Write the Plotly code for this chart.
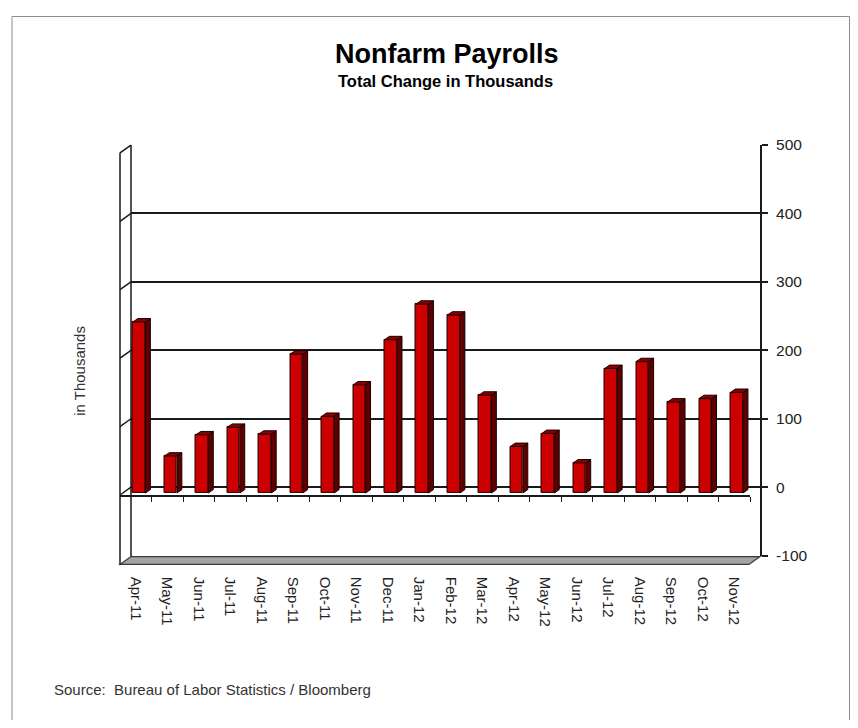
import plotly.graph_objects as go

months = ["Apr-11", "May-11", "Jun-11", "Jul-11", "Aug-11", "Sep-11", "Oct-11", "Nov-11",
          "Dec-11", "Jan-12", "Feb-12", "Mar-12", "Apr-12", "May-12", "Jun-12", "Jul-12",
          "Aug-12", "Sep-12", "Oct-12", "Nov-12"]
payrolls = [250, 54, 85, 96, 86, 203, 112, 158, 224, 276, 260, 143, 68, 87, 44, 182, 192, 133, 138, 147]
y_ticks = [-100, 0, 100, 200, 300, 400, 500]
y_tick_labels = ["-100", "0", "100", "200", "300", "400", "500"]

# The page body keeps an 8px margin, so the figure is sized to fit inside the window
OFF = 8
W, H = 858 - 2 * OFF, 728 - 2 * OFF
FONT = "Liberation Sans, Arial, sans-serif"

def px(x):
    return (x - OFF) / W

def py(y):
    return 1 - (y - OFF) / H

BAR_HALF = 0.2
DX = 0.155
DY = 5.0

fig = go.Figure()

# Back wall subplot (x / y)
fig.add_trace(go.Scatter(x=[0.5], y=[None], xaxis="x", yaxis="y", showlegend=False, hoverinfo="skip"))

# Bars (x2 / y2): front faces
idx = list(range(len(months)))
fig.add_trace(go.Bar(x=idx, y=payrolls, xaxis="x2", yaxis="y2", width=2 * BAR_HALF,
                     marker=dict(color="#cc0000", line=dict(color="#1a0000", width=1)),
                     showlegend=False, hoverinfo="skip"))

sx, sy, tx, ty = [], [], [], []
for i, v in zip(idx, payrolls):
    r = i + BAR_HALF
    l = i - BAR_HALF
    sx += [r, r + DX, r + DX, r, r, None]
    sy += [0, DY, v + DY, v, 0, None]
    tx += [l, r, r + DX, l + DX, l, None]
    ty += [v, v, v + DY, v + DY, v, None]
fig.add_trace(go.Scatter(x=sx, y=sy, xaxis="x2", yaxis="y2", mode="lines", fill="toself",
                         fillcolor="#5e0000", line=dict(color="#1a0000", width=1),
                         showlegend=False, hoverinfo="skip"))
fig.add_trace(go.Scatter(x=tx, y=ty, xaxis="x2", yaxis="y2", mode="lines", fill="toself",
                         fillcolor="#8a0000", line=dict(color="#1a0000", width=1),
                         showlegend=False, hoverinfo="skip"))

# Front category axis carrier
fig.add_trace(go.Scatter(x=[0], y=[None], xaxis="x3", yaxis="y2", showlegend=False, hoverinfo="skip"))

# ---- frame (back wall at x 131..760, y 140..560; front offset -11px, +8px)
BL, BR, FL, FR = 131, 760, 120, 749
grid_py = [140, 210, 280, 350, 420, 490]
LINE = dict(color="#1a1a1a", width=1.5)
shapes = []
shapes.append(dict(type="rect", xref="paper", yref="paper", x0=px(12), x1=px(849.5), y0=py(740), y1=py(8.5),
                   line=dict(color="#8c8c8c", width=1), layer="below"))
shapes.append(dict(type="path", xref="paper", yref="paper",
                   path=f"M {px(BL)},{py(561)} L {px(BR)},{py(561)} L {px(FR)},{py(569)} L {px(FL)},{py(569)} Z",
                   fillcolor="#a3a3a3", line=dict(color="#3a3a3a", width=1.2), layer="below"))
for g in grid_py:
    shapes.append(dict(type="line", xref="paper", yref="paper", x0=px(BL), y0=py(g), x1=px(FL), y1=py(g + 8),
                       line=LINE, layer="below"))
shapes.append(dict(type="line", xref="paper", yref="paper", x0=px(BL), y0=py(140), x1=px(BL), y1=py(561),
                   line=LINE, layer="below"))
shapes.append(dict(type="line", xref="paper", yref="paper", x0=px(FL), y0=py(148), x1=px(FL), y1=py(569),
                   line=LINE, layer="below"))

annotations = [
    dict(text="<b>Nonfarm Payrolls</b>", x=px(447), y=py(47), xref="paper", yref="paper",
         showarrow=False, font=dict(family=FONT, size=27, color="#000"), xanchor="center", yanchor="middle"),
    dict(text="<b>Total Change in Thousands</b>", x=px(446), y=py(74), xref="paper", yref="paper",
         showarrow=False, font=dict(family=FONT, size=16.5, color="#000"), xanchor="center", yanchor="middle"),
    dict(text="in Thousands", x=px(80), y=py(371), xref="paper", yref="paper", textangle=-90,
         showarrow=False, font=dict(family=FONT, size=15, color="#333"), xanchor="center", yanchor="middle"),
    dict(text="Source:  Bureau of Labor Statistics / Bloomberg", x=px(52), y=py(697), xref="paper", yref="paper",
         showarrow=False, font=dict(family=FONT, size=15, color="#333"), xanchor="left", yanchor="middle"),
]

fig.update_layout(
    width=W, height=H, autosize=False,
    margin=dict(l=0, r=0, t=0, b=0, pad=0),
    paper_bgcolor="white", plot_bgcolor="rgba(0,0,0,0)",
    bargap=0, showlegend=False,
    font=dict(family=FONT, color="#222"),
    xaxis=dict(domain=[px(BL), px(BR)], range=[0, 1], anchor="y", visible=False, fixedrange=True),
    yaxis=dict(domain=[py(560.3), py(139.7)], range=[-100.3, 500.3], anchor="x", side="right",
               tickvals=y_ticks, ticktext=y_tick_labels, ticks="outside", ticklen=6,
               tickcolor="#1a1a1a", tickwidth=1.5,
               showgrid=True, gridcolor="#1a1a1a", gridwidth=1.5, zeroline=False,
               showline=True, linecolor="#1a1a1a", linewidth=2,
               tickfont=dict(family=FONT, size=15.5, color="#222"), ticklabelstandoff=5, fixedrange=True),
    xaxis2=dict(domain=[px(123.5), px(752.5)], range=[-0.5, 19.5], anchor="y2", visible=False, fixedrange=True),
    yaxis2=dict(domain=[py(566), py(146)], range=[-100, 500], anchor="x2", visible=False, fixedrange=True),
    xaxis3=dict(domain=[px(FL), px(750)], range=[-0.5, 19.5], anchor="free", position=py(499),
                tickvals=idx, ticktext=months, ticks="", tickangle=90,
                tickfont=dict(family=FONT, size=15, color="#222"), ticklabelstandoff=77,
                showline=True, linecolor="#1a1a1a", linewidth=1.5, showgrid=False, zeroline=False,
                minor=dict(tickvals=[i + 0.5 for i in idx], ticks="outside", ticklen=5,
                           tickcolor="#1a1a1a", tickwidth=1.2),
                fixedrange=True),
    shapes=shapes,
    annotations=annotations,
)

fig.write_html("out.html")
